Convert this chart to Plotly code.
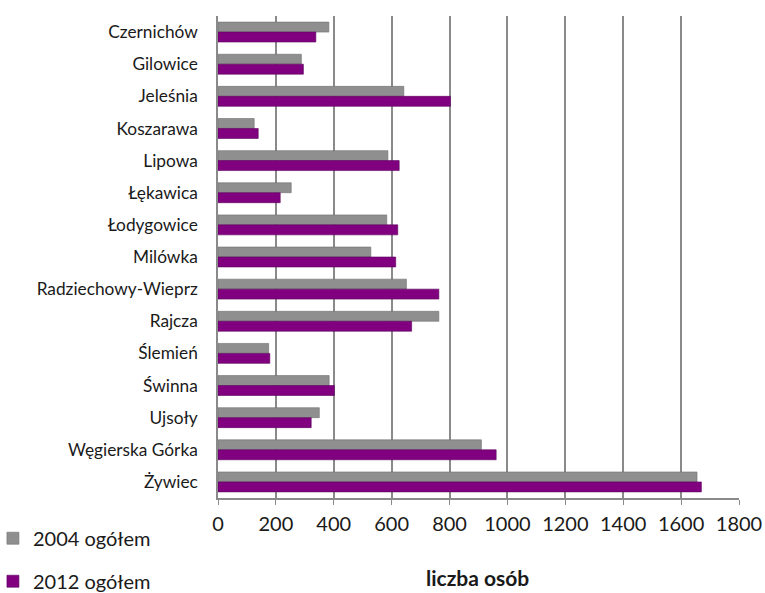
import plotly.graph_objects as go

categories = ["Czernichów", "Gilowice", "Jeleśnia", "Koszarawa", "Lipowa", "Łękawica",
              "Łodygowice", "Milówka", "Radziechowy-Wieprz", "Rajcza", "Ślemień",
              "Świnna", "Ujsoły", "Węgierska Górka", "Żywiec"]
values_2004 = [383, 288, 642, 125, 587, 253, 583, 528, 651, 763, 175, 384, 350, 910, 1655]
values_2012 = [338, 295, 803, 139, 626, 215, 621, 614, 763, 669, 179, 402, 322, 961, 1670]
x_ticks = [0, 200, 400, 600, 800, 1000, 1200, 1400, 1600, 1800]

FONT = "Lato, Calibri, Carlito, sans-serif"

fig = go.Figure()
fig.add_trace(go.Bar(y=categories, x=values_2004, orientation="h", name="2004 ogółem",
                     marker=dict(color="#8f8f8f", line=dict(color="#6e6e6e", width=0.6)),
                     legendgroup="a"))
fig.add_trace(go.Bar(y=categories, x=values_2012, orientation="h", name="2012 ogółem",
                     marker=dict(color="#800080", line=dict(color="#5a005a", width=0.6)),
                     legendgroup="b"))

fig.update_layout(
    width=765, height=593,
    margin=dict(l=218, r=26, t=16, b=95, autoexpand=False),
    paper_bgcolor="white", plot_bgcolor="white",
    barmode="group", bargap=0.38, bargroupgap=0.0,
    font=dict(family=FONT, color="#1a1a1a"),
    showlegend=True,
    legend=dict(orientation="v", x=-0.432, xanchor="left", y=-0.043, yanchor="top",
                font=dict(size=20, family=FONT), tracegroupgap=14,
                itemwidth=30, bgcolor="rgba(0,0,0,0)"),
    xaxis=dict(range=[0, 1800], tickvals=x_ticks, ticktext=[str(v) for v in x_ticks],
               showgrid=True, gridcolor="#8a8a8a", gridwidth=1.5,
               showline=True, linecolor="#8a8a8a", linewidth=1.5,
               ticks="outside", ticklen=5, tickcolor="#8a8a8a",
               ticklabelstandoff=2, ticklabeloverflow="allow",
               tickfont=dict(size=20, family=FONT, color="#1a1a1a"),
               zeroline=False, fixedrange=True),
    yaxis=dict(autorange="reversed", showgrid=False,
               showline=True, linecolor="#8a8a8a", linewidth=1.5,
               ticks="", ticklabelstandoff=15,
               tickfont=dict(size=17.3, family=FONT, color="#1a1a1a"),
               fixedrange=True),
    annotations=[dict(text="<b>liczba osób</b>", x=(477 - 218) / 521, xref="paper",
                      y=-(577 - 498) / 482, yref="paper",
                      xanchor="center", yanchor="middle", showarrow=False,
                      font=dict(size=21, family=FONT, color="#1a1a1a"))],
)

fig.write_html("out.html", config={"displayModeBar": False},
               post_script="document.body.style.margin='0px';document.body.style.overflow='hidden';")
